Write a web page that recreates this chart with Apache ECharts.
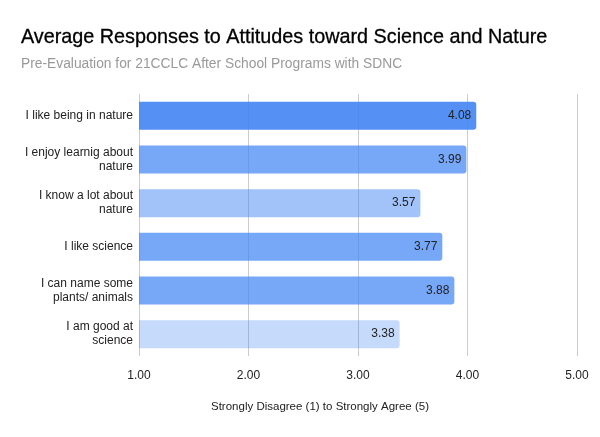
<!DOCTYPE html>
<html>
<head>
<meta charset="utf-8">
<script src="https://cdn.jsdelivr.net/npm/echarts@6/dist/echarts.min.js"></script>
<style>
  html, body { margin: 0; padding: 0; background: #fff; }
  #chart { width: 600px; height: 437px; }
</style>
</head>
<body>
<div id="chart"></div>
<script>
var categories = [
  'I like being in nature',
  'I enjoy learnig about\nnature',
  'I know a lot about\nnature',
  'I like science',
  'I can name some\nplants/ animals',
  'I am good at\nscience'
];
var values = [4.08, 3.99, 3.57, 3.77, 3.88, 3.38];
var xTicks = [1, 2, 3, 4, 5];

// shade of each bar (alpha of the base blue)
var barOpacity = [0.9, 0.72, 0.49, 0.72, 0.72, 0.3];

var FONT = 'Arial, "Liberation Sans", sans-serif';

var chart = echarts.init(document.getElementById('chart'));

var option = {
  animation: false,
  textStyle: { fontFamily: FONT },
  title: {
    text: 'Average Responses to Attitudes toward Science and Nature',
    subtext: 'Pre-Evaluation for 21CCLC After School Programs with SDNC',
    left: 16,
    top: 23,
    itemGap: 9,
    textStyle: { fontSize: 19.8, fontWeight: 'normal', color: '#000', fontFamily: FONT, textBorderColor: '#000', textBorderWidth: 0.3 },
    subtextStyle: { fontSize: 13.8, color: '#999', fontFamily: FONT }
  },
  grid: {
    left: 139,
    right: 23,
    top: 94,
    bottom: 81
  },
  xAxis: {
    type: 'value',
    min: xTicks[0],
    max: xTicks[xTicks.length - 1],
    interval: 1,
    axisLine: { show: false },
    axisTick: { show: false },
    splitLine: { lineStyle: { color: '#ccc', width: 1 } },
    axisLabel: {
      color: '#222',
      fontSize: 12,
      margin: 14,
      formatter: function (v) { return v.toFixed(2); }
    }
  },
  yAxis: {
    type: 'category',
    data: categories,
    inverse: true,
    axisLine: { show: false },
    axisTick: { show: false },
    axisLabel: {
      color: '#222',
      fontSize: 12,
      margin: 6,
      lineHeight: 14
    }
  },
  graphic: [{
    type: 'text',
    left: 211,
    top: 401,
    style: {
      text: 'Strongly Disagree (1) to Strongly Agree (5)',
      fill: '#222',
      font: '11.5px Arial, "Liberation Sans", sans-serif'
    }
  }],
  series: [{
    type: 'bar',
    barCategoryGap: '36%',
    data: values.map(function (v, i) {
      return {
        value: v,
        itemStyle: { color: 'rgba(66,133,244,' + barOpacity[i] + ')' }
      };
    }),
    itemStyle: { borderRadius: [0, 3, 3, 0] },
    label: {
      show: true,
      position: 'insideRight',
      distance: 5,
      color: '#222',
      fontSize: 12,
      formatter: function (p) { return p.value.toFixed(2); }
    }
  }]
};

chart.setOption(option);
</script>
</body>
</html>
